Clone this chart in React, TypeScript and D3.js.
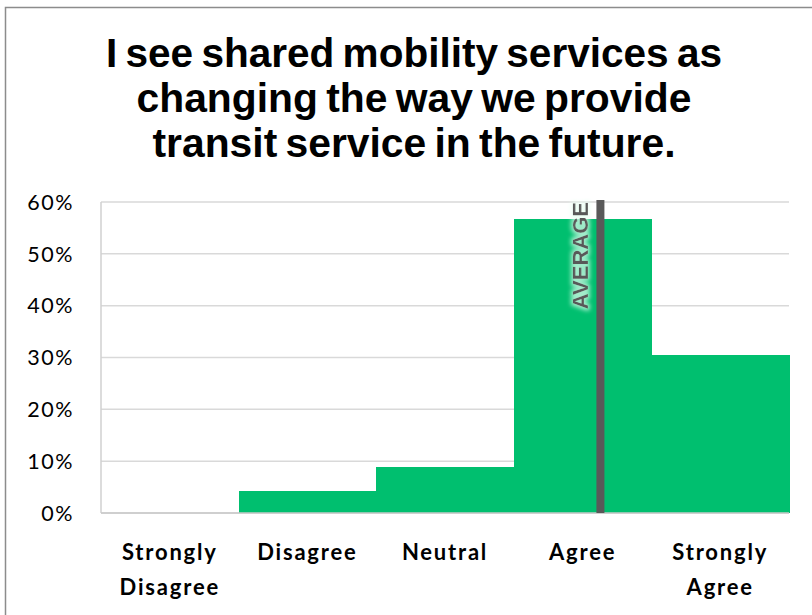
import React from "react";
import * as d3 from "d3";

const titleLines = ["I see shared mobility services as", "changing the way we provide", "transit service in the future."];
const categories = ["Strongly Disagree", "Disagree", "Neutral", "Agree", "Strongly Agree"];
const labelLines = [["Strongly", "Disagree"], ["Disagree"], ["Neutral"], ["Agree"], ["Strongly", "Agree"]];
const scores = [1, 2, 3, 4, 5];
const values = [0, 0.043, 0.089, 0.567, 0.305];
const yTicks = [0, 0.1, 0.2, 0.3, 0.4, 0.5, 0.6];
const averageLabel = "AVERAGE";

const W = 812, H = 615;
const plot = { left: 101, right: 789, top: 202, bottom: 513 };
const titleLengths = [616, 555, 523];

export default function App() {
  const x = d3.scaleBand<string>().domain(categories).range([plot.left, plot.right]).padding(0);
  const y = d3.scaleLinear().domain([0, 0.6]).range([plot.bottom, plot.top]);
  const total = d3.sum(values);
  const avg = d3.sum(values.map((v, i) => v * scores[i])) / total;
  const sx = d3.scaleLinear().domain([1, 5]).range([
    (x(categories[0]) as number) + x.bandwidth() / 2,
    (x(categories[4]) as number) + x.bandwidth() / 2,
  ]);
  const avgX = sx(avg);

  return (
    <svg width={W} height={H} style={{ position: "absolute", left: 0, top: 0, background: "#fff" }}>
      <defs>
        <filter id="glow" x="-30%" y="-30%" width="160%" height="160%">
          <feMorphology in="SourceAlpha" operator="dilate" radius="2" result="d" />
          <feGaussianBlur in="d" stdDeviation="2" result="b" />
          <feFlood floodColor="#e8fff2" floodOpacity="0.7" />
          <feComposite in2="b" operator="in" result="g" />
          <feMerge>
            <feMergeNode in="g" />
            <feMergeNode in="SourceGraphic" />
          </feMerge>
        </filter>
      </defs>
      <rect x={0} y={0} width={W} height={H} fill="#fff" />
      <rect x={5.5} y={7.5} width={W + 10} height={H + 10} fill="none" stroke="#8c8c8c" strokeWidth={1.5} />
      {titleLines.map((t, i) => (
        <text key={i} x={414} y={67 + i * 45} textAnchor="middle" fontFamily="'Liberation Sans', Arial, sans-serif"
          fontWeight="bold" fontSize={40} wordSpacing={-3} fill="#000" textLength={titleLengths[i]}
          lengthAdjust="spacingAndGlyphs">{t}</text>
      ))}
      {yTicks.map((t) => (
        <g key={t}>
          <line x1={plot.left} x2={plot.right} y1={y(t)} y2={y(t)} stroke="#d9d9d9" strokeWidth={1.5} />
          <text x={74} y={y(t)} dy="0.36em" textAnchor="end" fontFamily="Lato, 'Open Sans', sans-serif"
            fontSize={21.5} letterSpacing={1.5} fill="#000">{d3.format(".0%")(t)}</text>
        </g>
      ))}
      <line x1={plot.left} x2={plot.left} y1={plot.top} y2={plot.bottom} stroke="#d0d0d0" strokeWidth={1.5} />
      {categories.map((c, i) => (
        <rect key={c} x={x(c)} y={y(values[i])} width={x.bandwidth() + 0.5} height={plot.bottom - y(values[i])}
          fill="#00BF6F" shapeRendering="crispEdges" />
      ))}
      <line x1={plot.left} x2={plot.right} y1={plot.bottom} y2={plot.bottom} stroke="#c8c8c8" strokeWidth={1.5} />
      <line x1={avgX} x2={avgX} y1={200} y2={plot.bottom} stroke="#595959" strokeWidth={8} />
      <text transform={`translate(${avgX - 12.5},${y(0.6)}) rotate(-90)`} textAnchor="end"
        fontFamily="'Liberation Sans', Arial, sans-serif" fontWeight="bold" fontSize={22} fill="#595959"
        filter="url(#glow)">{averageLabel}</text>
      {categories.map((c, i) => (
        <text key={c} textAnchor="middle" fontFamily="Lato, 'Open Sans', sans-serif" fontWeight="bold"
          fontSize={22} letterSpacing={1.8} fill="#000">
          {labelLines[i].map((l, j) => (
            <tspan key={j} x={(x(c) as number) + x.bandwidth() / 2} y={560 + j * 35}>{l}</tspan>
          ))}
        </text>
      ))}
    </svg>
  );
}
